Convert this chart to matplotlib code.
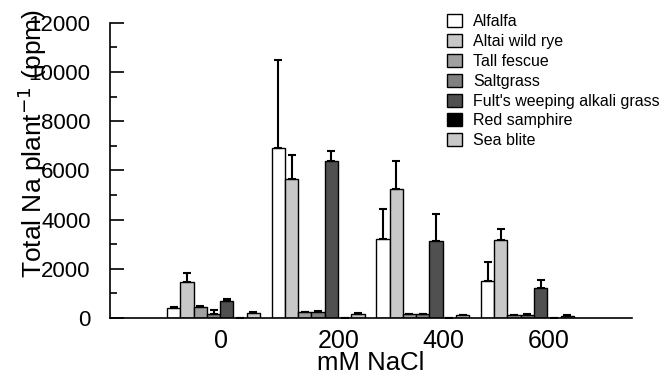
#!/usr/bin/env python
import numpy as np
import matplotlib
matplotlib.use("Agg")
import matplotlib.pyplot as plt
from matplotlib.ticker import MultipleLocator

plt.rcParams['font.family'] = ['Liberation Sans', 'DejaVu Sans']

# Data
nacl_levels = ["0", "200", "400", "600"]
species = ["Alfalfa", "Altai wild rye", "Tall fescue", "Saltgrass",
           "Fult's weeping alkali grass", "Red samphire", "Sea blite"]
colors = ["#ffffff", "#c8c8c8", "#a0a0a0", "#808080", "#505050",
          "#000000", "#c8c8c8"]

# mean Na per plant (ppm), one list per species, over the NaCl levels
alfalfa = [400, 6900, 3230, 1520]
altai = [1450, 5650, 5250, 3190]
tall_fescue = [460, 230, 160, 120]
saltgrass = [150, 230, 160, 140]
fults = [680, 6400, 3130, 1230]
red_samphire = [20, 20, 20, 20]
sea_blite = [215, 180, 120, 100]

# upper error bars
alfalfa_err = [40, 3580, 1190, 770]
altai_err = [390, 980, 1150, 430]
tall_fescue_err = [30, 30, 20, 20]
saltgrass_err = [160, 40, 20, 30]
fults_err = [80, 400, 1110, 330]
red_samphire_err = [0, 0, 0, 0]
sea_blite_err = [20, 20, 20, 20]

means = [alfalfa, altai, tall_fescue, saltgrass, fults, red_samphire, sea_blite]
errs = [alfalfa_err, altai_err, tall_fescue_err, saltgrass_err, fults_err,
        red_samphire_err, sea_blite_err]


def main():
    fig = plt.figure(figsize=(6.59, 3.75), dpi=100)
    ax = fig.add_axes([0.167, 0.152, 0.792, 0.787])

    x = np.arange(len(nacl_levels))
    width = 0.127
    for k, (name, vals, err, col) in enumerate(zip(species, means, errs, colors)):
        pos = x + (k - 3) * width
        ax.bar(pos, vals, width, color=col, edgecolor="black", linewidth=1.0,
               label=name, zorder=2)
        ax.errorbar(pos, vals, yerr=[np.zeros(len(err)), err], fmt="none",
                    ecolor="black", elinewidth=1.5, capsize=3, capthick=1.5,
                    zorder=3)

    ax.set_xlim(-0.989, 4.0)
    ax.set_ylim(0, 12000)
    ax.set_xticks(x)
    ax.set_xticklabels(nacl_levels, ha="left")
    ax.yaxis.set_major_locator(MultipleLocator(2000))
    ax.yaxis.set_minor_locator(MultipleLocator(1000))

    for side in ["top", "right"]:
        ax.spines[side].set_visible(False)
    for side in ["left", "bottom"]:
        ax.spines[side].set_linewidth(1.2)

    ax.tick_params(axis="y", which="major", direction="in", length=10,
                   width=1.2, labelsize=16, pad=14)
    ax.tick_params(axis="y", which="minor", direction="in", length=5,
                   width=1.2)
    ax.tick_params(axis="x", length=0, labelsize=18, pad=8)

    ax.set_xlabel("mM NaCl", fontsize=18.5, labelpad=-1.5)
    ax.set_ylabel("Total Na plant$^{-1}$ (ppm)", fontsize=19)
    ax.yaxis.set_label_coords(-0.117, 0.59)

    ax.legend(loc="upper left", bbox_to_anchor=(0.678, 0.962),
              bbox_transform=fig.transFigure, frameon=False, fontsize=11.5,
              borderpad=0, borderaxespad=0, labelspacing=0.3,
              handlelength=0.94, handleheight=0.88, handletextpad=0.72)

    fig.savefig("out.png", dpi=100)


if __name__ == "__main__":
    main()
